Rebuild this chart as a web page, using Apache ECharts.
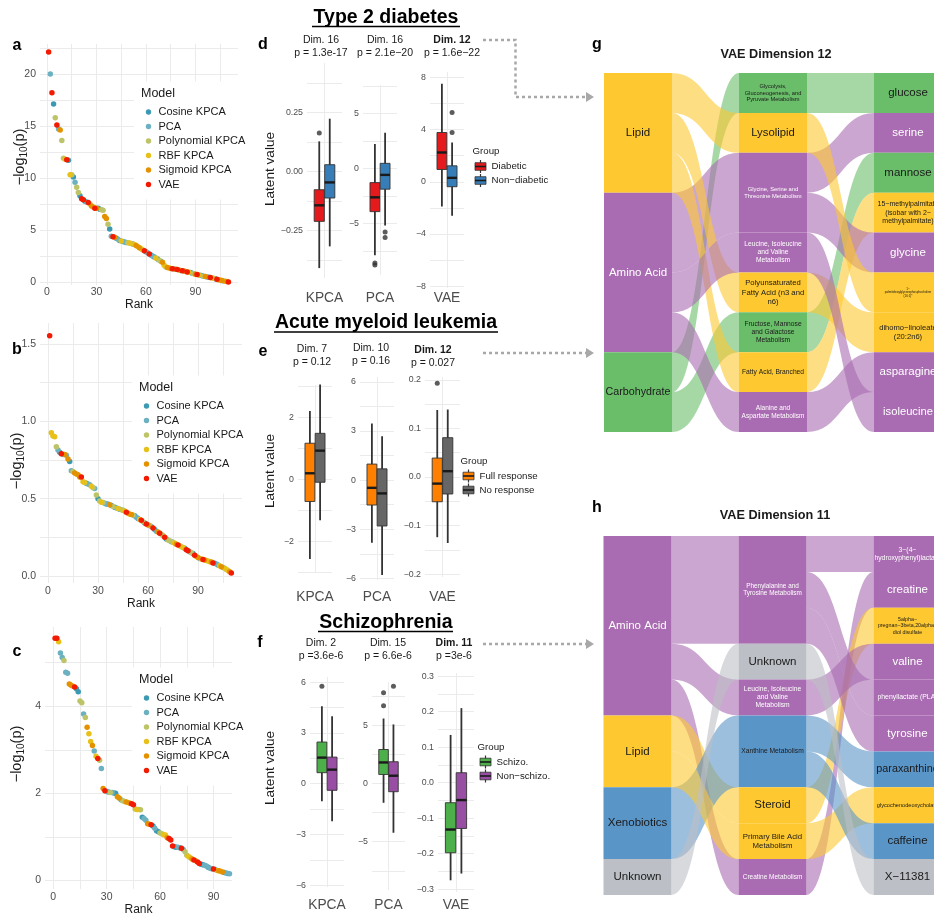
<!DOCTYPE html>
<html>
<head>
<meta charset="utf-8">
<script src="https://cdn.jsdelivr.net/npm/echarts@6/dist/echarts.min.js"></script>
<style>
  html, body { margin: 0; padding: 0; background: #fff; }
  #main { width: 934px; height: 917px; }
</style>
</head>
<body>
<div id="main"></div>
<script>
// ---- models (a-c) ----
const MODEL_CODES = 'CPYRSV';
const modelNames = ['Cosine KPCA', 'PCA', 'Polynomial KPCA', 'RBF KPCA', 'Sigmoid KPCA', 'VAE'];
const modelColors = ['#3B9AB2', '#6CB1C1', '#BDC468', '#E7C019', '#E49100', '#F21A00'];

// -log10(p) sorted by rank, one code per point (C P Y R S V)
const t2dScores = [
  22.1, 20.0, 18.2, 17.1, 15.8, 15.1, 14.7, 14.6, 13.6, 11.9,
  11.8, 11.75, 11.7, 10.3, 10.3, 10.1, 9.6, 9.1, 8.6, 8.3,
  8.0, 7.9, 7.75, 7.7, 7.65, 7.5, 7.3, 7.2, 7.1, 7.1,
  7.1, 7.0, 6.95, 6.9, 6.3, 6.1, 5.55, 5.1, 4.4, 4.35,
  4.3, 4.2, 4.1, 4.0, 3.95, 3.9, 3.85, 3.8, 3.78, 3.75,
  3.7, 3.65, 3.6, 3.5, 3.4, 3.3, 3.2, 3.1, 3.0, 2.9,
  2.8, 2.7, 2.6, 2.5, 2.4, 2.3, 2.2, 2.1, 2.0, 1.9,
  1.6, 1.45, 1.4, 1.35, 1.3, 1.28, 1.25, 1.22, 1.2, 1.15,
  1.1, 1.08, 1.05, 1.0, 0.97, 0.93, 0.9, 0.85, 0.8, 0.75,
  0.72, 0.68, 0.64, 0.6, 0.55, 0.52, 0.48, 0.45, 0.42, 0.38,
  0.35, 0.3, 0.26, 0.22, 0.18, 0.14, 0.1, 0.07, 0.04, 0.01
];
const t2dModels = 'VPVCYVPSYY RVCRYCPYYC VVCPVRSRVS CCYYSSYCPV SCPCRCPCYR YCRSRSRYVC PVCPCRCYPS RYSRSVPSVR CVSYVRCPYS VRPCYSPCVR YCVSRSPRSV';

const amlScores = [
  1.553, 0.926, 0.905, 0.90, 0.836, 0.815, 0.80, 0.79, 0.785, 0.785,
  0.78, 0.756, 0.74, 0.68, 0.675, 0.665, 0.66, 0.655, 0.64, 0.64,
  0.61, 0.605, 0.60, 0.595, 0.59, 0.58, 0.57, 0.565, 0.523, 0.50,
  0.485, 0.477, 0.475, 0.47, 0.465, 0.465, 0.46, 0.455, 0.45, 0.445,
  0.44, 0.437, 0.432, 0.428, 0.425, 0.42, 0.412, 0.405, 0.40, 0.398,
  0.395, 0.39, 0.38, 0.372, 0.365, 0.36, 0.35, 0.342, 0.336, 0.33,
  0.326, 0.32, 0.31, 0.30, 0.29, 0.284, 0.276, 0.27, 0.262, 0.25,
  0.24, 0.233, 0.228, 0.222, 0.218, 0.212, 0.206, 0.2, 0.195, 0.19,
  0.185, 0.18, 0.17, 0.163, 0.157, 0.15, 0.145, 0.135, 0.127, 0.12,
  0.114, 0.11, 0.107, 0.104, 0.1, 0.097, 0.093, 0.09, 0.085, 0.082,
  0.078, 0.072, 0.066, 0.06, 0.055, 0.05, 0.043, 0.036, 0.028, 0.02
];
const amlModels = 'VRRRYPCVPS PSCPYSRSSV RRCPPRYPYC YRYPCPSCYC PRCYPRVSRS YCPCRVYCVS YPVCPSVYYV CYYPYRSVRY RCVVPYCVRS PRVSRYRSVC PCRSPRYRSV';

const sczScores = [
  5.56, 5.56, 5.48, 5.22, 5.12, 5.05, 4.78, 4.76, 4.51, 4.48,
  4.46, 4.44, 4.40, 4.33, 4.12, 4.08, 3.82, 3.74, 3.52, 3.37,
  3.19, 3.10, 2.97, 2.85, 2.80, 2.76, 2.57, 2.11, 2.06, 2.04,
  2.03, 2.02, 2.02, 2.01, 2.00, 1.92, 1.89, 1.85, 1.83, 1.81,
  1.80, 1.79, 1.77, 1.76, 1.74, 1.64, 1.63, 1.63, 1.62, 1.45,
  1.42, 1.38, 1.30, 1.29, 1.28, 1.25, 1.20, 1.14, 1.12, 1.09,
  1.07, 1.05, 1.04, 0.98, 0.96, 0.93, 0.79, 0.77, 0.76, 0.76,
  0.75, 0.74, 0.71, 0.66, 0.58, 0.55, 0.52, 0.49, 0.47, 0.45,
  0.42, 0.39, 0.37, 0.36, 0.35, 0.33, 0.30, 0.28, 0.27, 0.26,
  0.25, 0.23, 0.22, 0.21, 0.19, 0.18, 0.17, 0.16, 0.15
];
const sczModels = 'VVRPPYPPSS RVCCYYPYSR RSPRVYPSVP CYPCCSSPYY SRSVVYRYYC PPSSVCPCCY YRRSVVVCCP CVPYYRYSVR VVCCPPCPCV PRSRSCPCP';

// ---- boxplots (d-f): [lower whisker, q1, median, q3, upper whisker] ----
const t2dGroups = ['Diabetic', 'Non\u2212diabetic'];
const t2dColors = ['#E41A1C', '#377EB8'];
const t2dKpca = [[-0.41, -0.212, -0.144, -0.078, 0.127], [-0.318, -0.113, -0.047, 0.028, 0.223]];
const t2dKpcaOut = [[0.162], []];
const t2dPca = [[-7.9, -3.94, -2.64, -1.3, 2.2], [-5.2, -1.9, -0.6, 0.45, 3.24]];
const t2dPcaOut = [[-8.6, -8.8], [-5.8, -6.3]];
const t2dVae = [[-1.9, 0.94, 2.24, 3.77, 7.5], [-2.6, -0.38, 0.3, 1.22, 3.0]];
const t2dVaeOut = [[], [3.77, 5.3]];

const amlGroups = ['Full response', 'No response'];
const amlColors = ['#FF7F00', '#666666'];
const amlKpca = [[-2.58, -0.72, 0.19, 1.16, 2.2], [-1.33, -0.1, 0.92, 1.48, 3.06]];
const amlKpcaOut = [[], []];
const amlPca = [[-3.82, -1.52, -0.47, 0.98, 3.46], [-5.8, -2.8, -0.81, 0.69, 2.68]];
const amlPcaOut = [[], []];
const amlVae = [[-0.124, -0.051, -0.0136, 0.039, 0.138], [-0.136, -0.035, 0.012, 0.081, 0.139]];
const amlVaeOut = [[0.193], []];

const sczGroups = ['Schizo.', 'Non\u2212schizo.'];
const sczColors = ['#4DAF4A', '#984EA3'];
const sczKpca = [[-1.04, 0.65, 1.54, 2.46, 4.57], [-2.22, -0.39, 0.83, 1.57, 3.98]];
const sczKpcaOut = [[5.75], []];
const sczPca = [[-1.66, 0.77, 1.8, 2.91, 5.57], [-4.23, -0.71, 0.66, 1.86, 5.06]];
const sczPcaOut = [[7.77, 6.66], [8.34]];
const sczVae = [[-0.275, -0.1975, -0.132, -0.0565, 0.1345], [-0.256, -0.129, -0.049, 0.028, 0.21]];
const sczVaeOut = [[], []];

// ---- alluvial (g, h): [super pathway, sub pathway, metabolite], top to bottom ----
const dim12Rows = [
  ['Carbohydrate', 'Glycolysis, Gluconeogenesis, and Pyruvate Metabolism', 'glucose'],
  ['Amino Acid', 'Glycine, Serine and Threonine Metabolism', 'serine'],
  ['Carbohydrate', 'Fructose, Mannose and Galactose Metabolism', 'mannose'],
  ['Lipid', 'Fatty Acid, Branched', '15-methylpalmitate (isobar with 2-methylpalmitate)'],
  ['Amino Acid', 'Glycine, Serine and Threonine Metabolism', 'glycine'],
  ['Lipid', 'Lysolipid', '1-palmitoleoylglycerophosphocholine (16:1)*'],
  ['Lipid', 'Polyunsaturated Fatty Acid (n3 and n6)', 'dihomo-linoleate (20:2n6)'],
  ['Amino Acid', 'Alanine and Aspartate Metabolism', 'asparagine'],
  ['Amino Acid', 'Leucine, Isoleucine and Valine Metabolism', 'isoleucine']
];
const dim12Super = ['Lipid', 'Amino Acid', 'Carbohydrate'];
const dim12Sub = ['Glycolysis, Gluconeogenesis, and Pyruvate Metabolism', 'Lysolipid',
  'Glycine, Serine and Threonine Metabolism', 'Leucine, Isoleucine and Valine Metabolism',
  'Polyunsaturated Fatty Acid (n3 and n6)', 'Fructose, Mannose and Galactose Metabolism',
  'Fatty Acid, Branched', 'Alanine and Aspartate Metabolism'];

const dim11Rows = [
  ['Amino Acid', 'Phenylalanine and Tyrosine Metabolism', '3-(4-hydroxyphenyl)lactate'],
  ['Amino Acid', 'Creatine Metabolism', 'creatine'],
  ['Lipid', 'Steroid', '5alpha-pregnan-3beta,20alpha-diol disulfate'],
  ['Amino Acid', 'Leucine, Isoleucine and Valine Metabolism', 'valine'],
  ['Amino Acid', 'Phenylalanine and Tyrosine Metabolism', 'phenyllactate (PLA)'],
  ['Amino Acid', 'Phenylalanine and Tyrosine Metabolism', 'tyrosine'],
  ['Xenobiotics', 'Xanthine Metabolism', 'paraxanthine'],
  ['Lipid', 'Primary Bile Acid Metabolism', 'glycochenodeoxycholate'],
  ['Xenobiotics', 'Xanthine Metabolism', 'caffeine'],
  ['Unknown', 'Unknown', 'X-11381']
];
const dim11Super = ['Amino Acid', 'Lipid', 'Xenobiotics', 'Unknown'];
const dim11Sub = ['Phenylalanine and Tyrosine Metabolism', 'Unknown', 'Leucine, Isoleucine and Valine Metabolism',
  'Xanthine Metabolism', 'Steroid', 'Primary Bile Acid Metabolism', 'Creatine Metabolism'];

const superColors = {
  'Lipid': '#FEC830', 'Amino Acid': '#A96BB1', 'Carbohydrate': '#6ABE6A',
  'Xenobiotics': '#5A95C8', 'Unknown': '#BCC0C6'
};

// label text (line breaks) and size for alluvial strata
const strataText = {
  'Carbohydrate': ['Carbohydrate', 10.7],
  'Glycolysis, Gluconeogenesis, and Pyruvate Metabolism': ['Glycolysis,\nGluconeogenesis, and\nPyruvate Metabolism', 5.7],
  'Lysolipid': ['Lysolipid', 11.3],
  'Glycine, Serine and Threonine Metabolism': ['Glycine, Serine and\nThreonine Metabolism', 5.8],
  'Leucine, Isoleucine and Valine Metabolism': ['Leucine, Isoleucine\nand Valine\nMetabolism', 6.7],
  'Polyunsaturated Fatty Acid (n3 and n6)': ['Polyunsaturated\nFatty Acid (n3 and\nn6)', 7.7],
  'Fructose, Mannose and Galactose Metabolism': ['Fructose, Mannose\nand Galactose\nMetabolism', 6.7],
  'Fatty Acid, Branched': ['Fatty Acid, Branched', 6.7],
  'Alanine and Aspartate Metabolism': ['Alanine and\nAspartate Metabolism', 6.5],
  '15-methylpalmitate (isobar with 2-methylpalmitate)': ['15\u2212methylpalmitate\n(isobar with 2\u2212\nmethylpalmitate)', 7],
  '1-palmitoleoylglycerophosphocholine (16:1)*': ['1\u2212\npalmitoleoylglycerophosphocholine\n(16:1)*', 3],
  'dihomo-linoleate (20:2n6)': ['dihomo\u2212linoleate\n(20:2n6)', 7.6],
  'isoleucine': ['isoleucine', 11.2],
  'Phenylalanine and Tyrosine Metabolism': ['Phenylalanine and\nTyrosine Metabolism', 6.4],
  'Xanthine Metabolism': ['Xanthine Metabolism', 6.7],
  'Primary Bile Acid Metabolism': ['Primary Bile Acid\nMetabolism', 7.8],
  'Creatine Metabolism': ['Creatine Metabolism', 6.5],
  '3-(4-hydroxyphenyl)lactate': ['3\u2212(4\u2212\nhydroxyphenyl)lactate', 6.8],
  '5alpha-pregnan-3beta,20alpha-diol disulfate': ['5alpha\u2212\npregnan\u22123beta,20alpha\u2212\ndiol disulfate', 5.3],
  'phenyllactate (PLA)': ['phenyllactate (PLA)', 6.9],
  'paraxanthine': ['paraxanthine', 10.8],
  'glycochenodeoxycholate': ['glycochenodeoxycholate', 5.6],
  'X-11381': ['X\u221211381', 11.5]
};

// ---------------------------------------------------------------
const FONT = '"Liberation Sans", Arial, Helvetica, sans-serif';
const INK = '#1a1a1a';
const AXIS_TXT = '#4d4d4d';
const GRID_COL = '#ebebeb';
const BOX_X = [-0.3, 0.3];
const BOX_W = 0.58;
const MINUS = v => String(v).replace('-', '\u2212');

const grids = [], xAxes = [], yAxes = [], series = [], graphics = [];

function text(x, y, str, size, extra) {
  extra = extra || {};
  return {
    type: 'text', x: x, y: y, z: 20, silent: true, rotation: extra.rotation || 0,
    style: Object.assign({
      text: str, fontSize: size, fontFamily: FONT, fill: INK,
      textAlign: 'center', align: 'center', textVerticalAlign: 'middle', verticalAlign: 'middle'
    }, extra.style || {})
  };
}

function addScatterPanel(p, scores, models) {
  const gi = grids.length;
  grids.push({ left: p.left, top: p.top, width: p.width, height: p.height });
  xAxes.push({
    type: 'value', gridIndex: gi, min: p.xMin, max: p.xMax,
    axisLine: { show: false }, axisTick: { show: false, customValues: p.xGrid },
    axisLabel: { customValues: [0, 30, 60, 90], color: AXIS_TXT, fontSize: 10.5, fontFamily: FONT, margin: p.xMargin },
    splitLine: { show: true, lineStyle: { color: GRID_COL, width: 1 } },
    name: 'Rank', nameLocation: 'middle', nameGap: p.nameGap,
    nameTextStyle: { color: INK, fontSize: 12, fontFamily: FONT }
  });
  yAxes.push({
    type: 'value', gridIndex: gi, min: p.yMin, max: p.yMax,
    axisLine: { show: false }, axisTick: { show: false, customValues: p.yGrid },
    axisLabel: { customValues: p.yLabels, formatter: p.yFmt, color: AXIS_TXT, fontSize: 10.5, fontFamily: FONT, margin: 4 },
    splitLine: { show: true, lineStyle: { color: GRID_COL, width: 1 } }
  });
  const codes = models.replace(/\s+/g, '');
  modelNames.forEach(function (m, mi) {
    const pts = [];
    scores.forEach(function (v, i) {
      if (MODEL_CODES.indexOf(codes[i]) === mi) pts.push([i + 1, v]);
    });
    series.push({
      type: 'scatter', name: m, xAxisIndex: gi, yAxisIndex: gi, data: pts,
      symbolSize: 5.5, itemStyle: { color: modelColors[mi], opacity: 1 }, silent: true, z: 3
    });
  });
  // legend inside the panel
  graphics.push({ type: 'rect', z: 1, silent: true, shape: { x: p.legX - 7, y: p.legY - 12, width: 113, height: 118 }, style: { fill: '#fff' } });
  graphics.push(text(p.legX, p.legY, 'Model', 12.5, { style: { textAlign: 'left', align: 'left' } }));
  modelNames.forEach(function (m, mi) {
    const y = p.legY + 18.5 + mi * 14.5;
    graphics.push({ type: 'circle', z: 20, silent: true, shape: { cx: p.legX + 7.5, cy: y, r: 2.7 }, style: { fill: modelColors[mi] } });
    graphics.push(text(p.legX + 17.5, y, m, 11, { style: { textAlign: 'left', align: 'left' } }));
  });
  graphics.push(text(p.nameX, p.nameY, '{a|\u2212log}{s|10}{a|(p)}', 14.5, {
    rotation: Math.PI / 2,
    style: { rich: { a: { fontSize: 14.5, fontFamily: FONT, fill: INK, lineHeight: 19 }, s: { fontSize: 10, fontFamily: FONT, fill: INK, verticalAlign: 'bottom' } } }
  }));
}

function renderBox(params, api) {
  const x = api.value(0);
  const lo = api.coord([x, api.value(1)]);
  const q1 = api.coord([x, api.value(2)]);
  const md = api.coord([x, api.value(3)]);
  const q3 = api.coord([x, api.value(4)]);
  const hi = api.coord([x, api.value(5)]);
  const half = api.size([BOX_W, 0])[0] / 2;
  return {
    type: 'group', children: [
      { type: 'line', shape: { x1: lo[0], y1: lo[1], x2: hi[0], y2: hi[1] }, style: { stroke: '#333', lineWidth: 1.8 } },
      { type: 'rect', shape: { x: q3[0] - half, y: q3[1], width: half * 2, height: q1[1] - q3[1] }, style: { fill: api.visual('color'), stroke: '#333', lineWidth: 0.9 } },
      { type: 'line', shape: { x1: md[0] - half, y1: md[1], x2: md[0] + half, y2: md[1] }, style: { stroke: '#1a1a1a', lineWidth: 2.4 } }
    ]
  };
}

function addBoxPanel(p, boxes, outliers, colors) {
  const gi = grids.length;
  grids.push({ left: p.left, top: p.top, width: p.width, height: p.height });
  xAxes.push({
    type: 'value', gridIndex: gi, min: -1, max: 1,
    axisLine: { show: false }, axisTick: { show: false, customValues: [0] },
    axisLabel: { customValues: [0], formatter: function () { return p.method; }, color: AXIS_TXT, fontSize: 13.8, fontFamily: FONT, margin: p.xMargin },
    splitLine: { show: true, lineStyle: { color: GRID_COL, width: 1 } }
  });
  yAxes.push({
    type: 'value', gridIndex: gi, min: p.yMin, max: p.yMax,
    axisLine: { show: false }, axisTick: { show: false, customValues: p.yGrid },
    axisLabel: { customValues: p.yLabels, formatter: p.yFmt, color: AXIS_TXT, fontSize: 8.8, fontFamily: FONT, margin: 4 },
    splitLine: { show: true, lineStyle: { color: GRID_COL, width: 1 } }
  });
  series.push({
    type: 'custom', xAxisIndex: gi, yAxisIndex: gi, renderItem: renderBox, silent: true, z: 3,
    encode: { x: 0, y: [1, 2, 3, 4, 5] },
    data: boxes.map(function (b, k) { return { value: [BOX_X[k]].concat(b), itemStyle: { color: colors[k] } }; })
  });
  const pts = [];
  outliers.forEach(function (arr, k) { arr.forEach(function (v) { pts.push([BOX_X[k], v]); }); });
  series.push({ type: 'scatter', xAxisIndex: gi, yAxisIndex: gi, data: pts, symbolSize: 5, itemStyle: { color: '#333' }, silent: true, z: 4 });
  // header text above panel
  graphics.push(text(p.titleX, p.titleY, p.dim, 10.5, { style: { fontWeight: p.bold ? 'bold' : 'normal' } }));
  graphics.push(text(p.titleX, p.titleY + 13, p.pval, 10.5));
}

function addBoxLegend(x, y, groups, colors) {
  graphics.push(text(x, y, 'Group', 9.7, { style: { textAlign: 'left', align: 'left' } }));
  groups.forEach(function (g, k) {
    const cy = y + 15 + k * 14;
    const cx = x + 8;
    graphics.push({ type: 'line', z: 20, silent: true, shape: { x1: cx, y1: cy - 6.5, x2: cx, y2: cy + 6.5 }, style: { stroke: '#333', lineWidth: 1.2 } });
    graphics.push({ type: 'rect', z: 20, silent: true, shape: { x: cx - 5.5, y: cy - 3.8, width: 11, height: 7.6 }, style: { fill: colors[k], stroke: '#333', lineWidth: 0.8 } });
    graphics.push({ type: 'line', z: 20, silent: true, shape: { x1: cx - 5.5, y1: cy, x2: cx + 5.5, y2: cy }, style: { stroke: '#1a1a1a', lineWidth: 1.6 } });
    graphics.push(text(x + 19, cy, g, 9.7, { style: { textAlign: 'left', align: 'left' } }));
  });
}

function buildAlluvial(rows, superOrder, subOrder, pos) {
  const nodes = [];
  function addNode(col, key, superKey) {
    const t = strataText[key] || [key, 11.5];
    nodes.push({
      name: col + '|' + key,
      itemStyle: { color: superColors[superKey], borderWidth: 0 },
      label: {
        formatter: function () { return t[0]; }, fontSize: t[1], lineHeight: t[1] * 1.2,
        color: superKey === 'Amino Acid' ? '#ffffff' : INK
      }
    });
  }
  superOrder.forEach(function (s) { addNode('L', s, s); });
  subOrder.forEach(function (s) {
    const r = rows.find(function (row) { return row[1] === s; });
    addNode('M', s, r[0]);
  });
  rows.forEach(function (r) { addNode('R', r[2], r[0]); });
  const links = [];
  const seen = {};
  rows.forEach(function (r) {
    const k = r[0] + '>' + r[1];
    if (!seen[k]) {
      seen[k] = { source: 'L|' + r[0], target: 'M|' + r[1], value: 0, lineStyle: { color: superColors[r[0]] } };
      links.push(seen[k]);
    }
    seen[k].value += 1;
    links.push({ source: 'M|' + r[1], target: 'R|' + r[2], value: 1, lineStyle: { color: superColors[r[0]] } });
  });
  return {
    type: 'sankey', left: pos.left, top: pos.top, width: 338, height: 359,
    nodeWidth: 68, nodeGap: 0, layoutIterations: 0, draggable: false, silent: true,
    emphasis: { disabled: true },
    label: { show: true, position: 'inside', align: 'center', verticalAlign: 'middle', fontFamily: FONT },
    lineStyle: { curveness: 0.5, opacity: 0.6 },
    data: nodes, links: links
  };
}

// ---- panels a-c ----
addScatterPanel({ left: 40, top: 44, width: 198, height: 241, xMin: -4.24, xMax: 115.8, yMin: -0.29, yMax: 22.88,
  xGrid: [0, 15, 30, 45, 60, 75, 90, 105], yGrid: [0, 2.5, 5, 7.5, 10, 12.5, 15, 17.5, 20, 22.5], yLabels: [0, 5, 10, 15, 20],
  yFmt: function (v) { return String(v); }, xMargin: 2, nameGap: 12, legX: 141, legY: 93.5, nameX: 20, nameY: 157 },
  t2dScores, t2dModels);
addScatterPanel({ left: 40, top: 323, width: 202, height: 260, xMin: -4.8, xMax: 116.4, yMin: -0.045, yMax: 1.635,
  xGrid: [0, 15, 30, 45, 60, 75, 90, 105], yGrid: [0, 0.25, 0.5, 0.75, 1, 1.25, 1.5], yLabels: [0, 0.5, 1, 1.5],
  yFmt: function (v) { return v.toFixed(1); }, xMargin: 3, nameGap: 14, legX: 139, legY: 387.5, nameX: 17, nameY: 461 },
  amlScores, amlModels);
addScatterPanel({ left: 45, top: 627, width: 187, height: 265, xMin: -4.66, xMax: 100.4, yMin: -0.2, yMax: 5.82,
  xGrid: [0, 15, 30, 45, 60, 75, 90], yGrid: [0, 1, 2, 3, 4, 5], yLabels: [0, 2, 4],
  yFmt: function (v) { return String(v); }, xMargin: 3, nameGap: 12, legX: 139, legY: 679.5, nameX: 17, nameY: 754 },
  sczScores, sczModels);

// ---- panels d-f ----
const f2 = function (v) { return MINUS(v.toFixed(2)); };
const f1 = function (v) { return MINUS(v.toFixed(1)); };
const f0 = function (v) { return MINUS(String(v)); };

addBoxPanel({ left: 307, top: 63, width: 35, height: 215, yMin: -0.452, yMax: 0.459,
  yGrid: [-0.375, -0.25, -0.125, 0, 0.125, 0.25, 0.375], yLabels: [-0.25, 0, 0.25], yFmt: f2,
  method: 'KPCA', xMargin: 13, titleX: 321, titleY: 40, dim: 'Dim. 16', pval: 'p = 1.3e-17' }, t2dKpca, t2dKpcaOut, t2dColors);
addBoxPanel({ left: 363, top: 85, width: 34, height: 190, yMin: -9.7, yMax: 7.57,
  yGrid: [-7.5, -5, -2.5, 0, 2.5, 5, 7.5], yLabels: [-5, 0, 5], yFmt: f0,
  method: 'PCA', xMargin: 16, titleX: 385, titleY: 40, dim: 'Dim. 16', pval: 'p = 2.1e\u221220' }, t2dPca, t2dPcaOut, t2dColors);
addBoxPanel({ left: 430, top: 72, width: 34, height: 216, yMin: -8.13, yMax: 8.4,
  yGrid: [-8, -6, -4, -2, 0, 2, 4, 6, 8], yLabels: [-8, -4, 0, 4, 8], yFmt: f0,
  method: 'VAE', xMargin: 3, titleX: 452, titleY: 40, dim: 'Dim. 12', bold: true, pval: 'p = 1.6e\u221222' }, t2dVae, t2dVaeOut, t2dColors);

addBoxPanel({ left: 298, top: 385, width: 34, height: 188, yMin: -3.03, yMax: 3.04,
  yGrid: [-3, -2, -1, 0, 1, 2, 3], yLabels: [-2, 0, 2], yFmt: f0,
  method: 'KPCA', xMargin: 17, titleX: 312, titleY: 349, dim: 'Dim. 7', pval: 'p = 0.12' }, amlKpca, amlKpcaOut, amlColors);
addBoxPanel({ left: 360, top: 377, width: 34, height: 203, yMin: -6.1, yMax: 6.3,
  yGrid: [-6, -4.5, -3, -1.5, 0, 1.5, 3, 4.5, 6], yLabels: [-6, -3, 0, 3, 6], yFmt: f0,
  method: 'PCA', xMargin: 10, titleX: 371, titleY: 348.5, dim: 'Dim. 10', pval: 'p = 0.16' }, amlPca, amlPcaOut, amlColors);
addBoxPanel({ left: 425, top: 377, width: 35, height: 200, yMin: -0.206, yMax: 0.206,
  yGrid: [-0.2, -0.15, -0.1, -0.05, 0, 0.05, 0.1, 0.15, 0.2], yLabels: [-0.2, -0.1, 0, 0.1, 0.2], yFmt: f1,
  method: 'VAE', xMargin: 13, titleX: 433, titleY: 350, dim: 'Dim. 12', bold: true, pval: 'p = 0.027' }, amlVae, amlVaeOut, amlColors);

addBoxPanel({ left: 310, top: 677, width: 34, height: 210, yMin: -6.1, yMax: 6.3,
  yGrid: [-6, -4.5, -3, -1.5, 0, 1.5, 3, 4.5, 6], yLabels: [-6, -3, 0, 3, 6], yFmt: f0,
  method: 'KPCA', xMargin: 11, titleX: 321, titleY: 643, dim: 'Dim. 2', pval: 'p =3.6e-6' }, sczKpca, sczKpcaOut, sczColors);
addBoxPanel({ left: 372, top: 682, width: 33, height: 208, yMin: -9.14, yMax: 8.7,
  yGrid: [-7.5, -5, -2.5, 0, 2.5, 5, 7.5], yLabels: [-5, 0, 5], yFmt: f0,
  method: 'PCA', xMargin: 8, titleX: 388, titleY: 643, dim: 'Dim. 15', pval: 'p = 6.6e-6' }, sczPca, sczPcaOut, sczColors);
addBoxPanel({ left: 438, top: 673, width: 36, height: 219, yMin: -0.308, yMax: 0.309,
  yGrid: [-0.3, -0.25, -0.2, -0.15, -0.1, -0.05, 0, 0.05, 0.1, 0.15, 0.2, 0.25, 0.3],
  yLabels: [-0.3, -0.2, -0.1, 0, 0.1, 0.2, 0.3], yFmt: f1,
  method: 'VAE', xMargin: 6, titleX: 454, titleY: 643, dim: 'Dim. 11', bold: true, pval: 'p =3e-6' }, sczVae, sczVaeOut, sczColors);

addBoxLegend(472.5, 151.5, t2dGroups, t2dColors);
addBoxLegend(460.5, 461, amlGroups, amlColors);
addBoxLegend(477.5, 747, sczGroups, sczColors);

// y titles for d-f
[[270.7, 169], [270.7, 471], [270.7, 768]].forEach(function (p) {
  graphics.push(text(p[0], p[1], 'Latent value', 13.6, { rotation: Math.PI / 2 }));
});

// section headers with underline
[['Type 2 diabetes', 17.5, 26.5, 312, 460], ['Acute myeloid leukemia', 323, 332, 274, 498], ['Schizophrenia', 623, 631.5, 318, 453]]
  .forEach(function (h) {
    graphics.push(text(386, h[1], h[0], 19.5, { style: { fontWeight: 'bold', fill: '#000' } }));
    graphics.push({ type: 'line', z: 20, silent: true, shape: { x1: h[3], y1: h[2], x2: h[4], y2: h[2] }, style: { stroke: '#000', lineWidth: 1.5 } });
  });

// panel letters
[['a', 17, 46], ['b', 17, 350], ['c', 17, 652], ['d', 263, 45], ['e', 263, 352], ['f', 260, 643], ['g', 597, 45], ['h', 597, 508]]
  .forEach(function (l) { graphics.push(text(l[1], l[2], l[0], 16, { style: { fontWeight: 'bold', fill: '#000' } })); });

// alluvial titles
graphics.push(text(776, 54, 'VAE Dimension 12', 12.7, { style: { fontWeight: 'bold' } }));
graphics.push(text(775, 515, 'VAE Dimension 11', 12.7, { style: { fontWeight: 'bold' } }));

// dashed connectors
const ARROW = '#a8a8a8';
[[[483, 40], [515.5, 40], [515.5, 97], [586, 97]], [[483, 353], [586, 353]], [[483, 644], [586, 644]]].forEach(function (pts) {
  graphics.push({ type: 'polyline', z: 20, silent: true, shape: { points: pts }, style: { stroke: ARROW, lineWidth: 2.5, lineDash: [3, 3], fill: null } });
  const e = pts[pts.length - 1];
  graphics.push({ type: 'polygon', z: 20, silent: true, shape: { points: [[e[0], e[1] - 5], [e[0] + 8, e[1]], [e[0], e[1] + 5]] }, style: { fill: ARROW } });
});

series.push(buildAlluvial(dim12Rows, dim12Super, dim12Sub, { left: 604, top: 73 }));
series.push(buildAlluvial(dim11Rows, dim11Super, dim11Sub, { left: 603.5, top: 536 }));

const chart = echarts.init(document.getElementById('main'), null, { renderer: 'canvas' });
chart.setOption({
  animation: false,
  backgroundColor: '#ffffff',
  textStyle: { fontFamily: FONT },
  grid: grids,
  xAxis: xAxes,
  yAxis: yAxes,
  series: series,
  graphic: { elements: graphics }
});
</script>
</body>
</html>
